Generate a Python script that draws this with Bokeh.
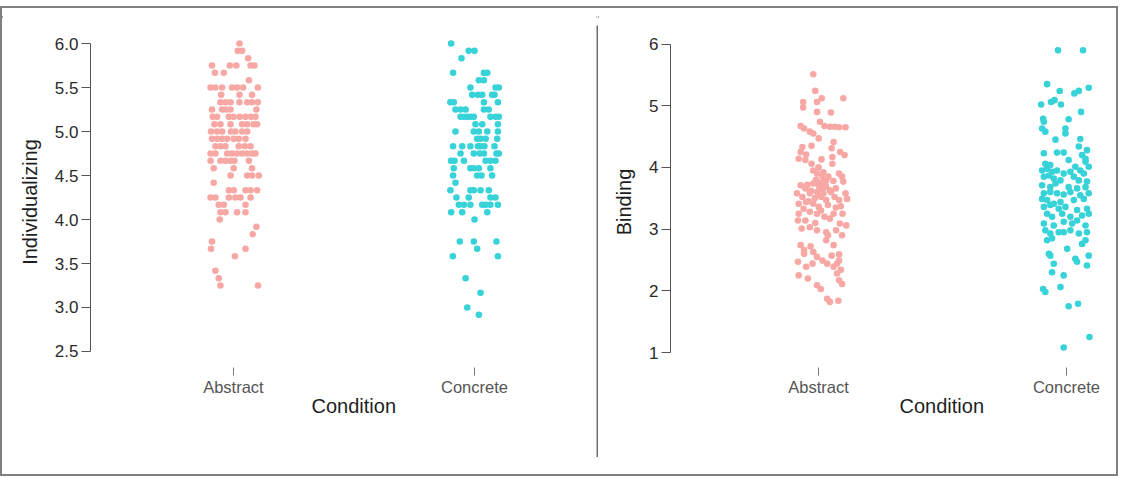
import numpy as np
from bokeh.plotting import figure
from bokeh.models import Range1d, FixedTicker, Title, Spacer, ColumnDataSource, Div
from bokeh.layouts import row, column
from bokeh.embed import file_html
from bokeh.resources import INLINE

# ---------------- data ----------------
categories = ["Abstract", "Concrete"]
colors = ["#F8A8A4", "#38D3D9"]

ind_ticks = [2.5, 3.0, 3.5, 4.0, 4.5, 5.0, 5.5, 6.0]
ind_tick_labels = ["2.5", "3.0", "3.5", "4.0", "4.5", "5.0", "5.5", "6.0"]
bind_ticks = [1, 2, 3, 4, 5, 6]
bind_tick_labels = ["1", "2", "3", "4", "5", "6"]

# Individualizing: score levels and horizontal jitter of each point on that level
ind_abstract_levels = [6.0, 5.917, 5.833, 5.75, 5.667, 5.583, 5.5, 5.417, 5.333, 5.25,
                       5.167, 5.083, 5.0, 4.917, 4.833, 4.75, 4.667, 4.583, 4.5, 4.417,
                       4.333, 4.25, 4.167, 4.083, 4.0, 3.917, 3.833, 3.75, 3.667, 3.583,
                       3.417, 3.333, 3.25]
ind_abstract_jitter = [
    [0.025],
    [0.018, 0.036],
    [0.061],
    [-0.089, -0.015, 0.012, 0.071, 0.087],
    [-0.077, -0.040],
    [0.064],
    [-0.095, -0.075, -0.047, -0.006, 0.015, 0.040, 0.101],
    [-0.051, 0.025, 0.077],
    [-0.054, -0.033, -0.012, 0.025, 0.057, 0.077, 0.101],
    [-0.089, -0.047, -0.030, -0.012, 0.095],
    [-0.086, -0.068, -0.019, 0.001, 0.026, 0.050, 0.073, 0.091],
    [-0.079, -0.054, -0.012, 0.036, 0.057, 0.084, 0.098],
    [-0.093, -0.068, -0.047, -0.010, 0.008, 0.036, 0.057],
    [-0.089, -0.068, -0.047, -0.026, 0.001, 0.022, 0.050],
    [-0.075, -0.054, -0.033, 0.022, 0.047, 0.071],
    [-0.095, -0.075, -0.026, -0.006, 0.015, 0.036, 0.057, 0.077, 0.091],
    [-0.095, -0.054, -0.033, -0.012, 0.004, 0.064],
    [-0.082, 0.001, 0.077],
    [-0.012, 0.057, 0.077, 0.105],
    [-0.082],
    [-0.019, 0.001, 0.050, 0.071, 0.098],
    [-0.095, -0.075, -0.019, 0.008, 0.029, 0.071],
    [-0.061, -0.040, 0.050],
    [-0.054, -0.033, 0.015, 0.050],
    [-0.057],
    [0.095],
    [0.080],
    [-0.089],
    [-0.093, 0.050],
    [0.006],
    [-0.075],
    [-0.061],
    [-0.054, 0.102],
]

ind_concrete_levels = [6.0, 5.917, 5.833, 5.667, 5.583, 5.5, 5.417, 5.333, 5.25, 5.167,
                       5.083, 5.0, 4.917, 4.833, 4.75, 4.667, 4.583, 4.5, 4.417, 4.333,
                       4.25, 4.167, 4.083, 4.0, 3.75, 3.667, 3.583, 3.333, 3.167, 3.0,
                       2.917]
ind_concrete_jitter = [
    [-0.097],
    [-0.024, 0.0],
    [-0.054],
    [-0.089, 0.039, 0.053],
    [0.018, 0.039],
    [-0.017, 0.087, 0.101],
    [-0.010, 0.014, 0.032, 0.073, 0.083],
    [-0.100, -0.086, 0.039, 0.097],
    [-0.079, -0.058, -0.037, 0.039, 0.059],
    [-0.058, -0.044, -0.030, -0.017, -0.003, 0.066, 0.087, 0.101],
    [0.004, 0.032, 0.097],
    [-0.079, -0.003, 0.018, 0.053, 0.097],
    [0.011, 0.025, 0.046, 0.094],
    [-0.089, -0.051, -0.017, 0.014, 0.025, 0.041, 0.083],
    [-0.058, -0.003, 0.022, 0.039, 0.091, 0.101],
    [-0.097, -0.083, -0.044, 0.046, 0.066, 0.087],
    [-0.086, -0.017, -0.003, 0.018, 0.066],
    [-0.089, 0.011, 0.029, 0.073],
    [-0.079],
    [-0.100, -0.017, -0.003, 0.025, 0.059],
    [-0.075, -0.024, 0.066, 0.087],
    [-0.065, -0.044, -0.017, 0.032, 0.046, 0.066, 0.097],
    [-0.097, -0.051, 0.053],
    [0.0],
    [-0.061, -0.003, 0.091],
    [0.011],
    [-0.090, 0.097],
    [-0.037],
    [0.025],
    [-0.030],
    [0.018],
]

# Binding: values and jitter of each point
bind_abstract_y = [
    5.51, 5.24, 5.12, 5.12, 5.06, 4.97, 5.06, 4.89, 4.90, 4.74,
    4.67, 4.63, 4.58, 4.67, 4.66, 4.66, 4.65, 4.65, 4.55, 4.47,
    4.41, 4.33, 4.25, 4.21, 4.35, 4.31, 4.25, 4.20, 4.14, 4.12,
    4.06, 4.13, 4.17, 4.06, 3.95, 3.90, 3.85, 3.79, 3.90, 3.85,
    3.77, 3.71, 3.66, 3.74, 3.71, 3.68, 3.63, 3.58, 3.52, 3.58,
    3.60, 3.52, 3.47, 3.52, 3.58, 3.49, 3.41, 3.44, 3.41, 3.36,
    3.39, 3.47, 3.37, 3.25, 3.28, 3.25, 3.20, 3.25, 3.25, 3.14,
    3.14, 3.10, 3.17, 3.09, 3.06, 3.01, 3.03, 2.98, 2.95, 2.98,
    2.90, 2.74, 2.66, 2.72, 2.63, 2.82, 2.74, 2.90, 2.60, 2.55,
    2.49, 2.57, 2.59, 2.49, 2.47, 2.39, 2.44, 2.44, 2.39, 2.44,
    2.34, 2.25, 2.20, 2.09, 2.03, 2.28, 2.17, 2.11, 1.82, 1.84,
    1.87, 3.80, 3.75, 3.70, 3.65, 3.62, 3.55, 3.50, 3.85, 3.78,
    3.66, 3.58, 3.45, 3.33, 3.30, 3.92, 4.00, 3.72, 3.60, 3.35,
]
bind_abstract_jitter = [
    -0.021, -0.013, 0.013, 0.100, -0.062, -0.062, -0.006, 0.050, -0.006, 0.006,
    -0.072, -0.058, -0.035, 0.024, 0.046, 0.065, 0.083, 0.109, -0.021, 0.001,
    0.061, -0.065, -0.072, -0.050, -0.028, 0.053, 0.087, 0.105, -0.080, -0.053,
    -0.028, 0.012, 0.056, 0.056, -0.021, -0.006, 0.016, 0.031, 0.083, 0.095,
    0.100, -0.072, -0.053, -0.021, 0.001, 0.024, 0.046, -0.087, -0.065, -0.035,
    -0.006, 0.012, 0.031, 0.065, 0.109, 0.115, -0.080, -0.050, -0.021, 0.001,
    0.038, 0.083, 0.090, -0.080, -0.035, -0.006, 0.024, 0.061, 0.097, -0.083,
    -0.053, -0.013, 0.046, 0.086, 0.112, -0.068, -0.035, -0.006, 0.031, 0.071,
    0.095, -0.072, -0.058, -0.032, -0.021, 0.031, 0.061, 0.038, -0.058, -0.006,
    0.016, 0.053, 0.083, 0.083, -0.083, -0.050, -0.024, 0.035, 0.061, 0.075,
    0.090, -0.080, -0.043, -0.006, 0.009, 0.075, 0.083, 0.095, 0.046, 0.080,
    0.035, -0.010, 0.010, 0.030, 0.005, -0.030, 0.000, -0.015, 0.040, 0.060,
    0.070, 0.020, -0.040, -0.060, 0.010, 0.020, 0.000, -0.045, 0.050, 0.070,
]

bind_concrete_y = [
    5.90, 5.90, 5.35, 5.24, 5.20, 5.24, 5.29, 5.02, 5.06, 5.09,
    5.02, 4.90, 4.79, 4.74, 4.78, 4.63, 4.58, 4.63, 4.55, 4.45,
    4.46, 4.34, 4.23, 4.24, 4.24, 4.28, 4.20, 4.14, 4.06, 4.04,
    4.12, 4.01, 4.09, 4.01, 3.95, 3.98, 3.93, 3.95, 3.90, 3.93,
    3.95, 3.90, 3.85, 3.87, 3.82, 3.79, 3.85, 3.79, 3.77, 3.71,
    3.68, 3.74, 3.68, 3.66, 3.68, 3.58, 3.60, 3.58, 3.56, 3.60,
    3.55, 3.58, 3.49, 3.47, 3.41, 3.44, 3.47, 3.49, 3.36, 3.39,
    3.33, 3.36, 3.31, 3.33, 3.25, 3.20, 3.25, 3.20, 3.22, 3.25,
    3.09, 3.06, 3.12, 3.09, 3.14, 3.06, 2.98, 2.93, 2.95, 2.95,
    2.98, 2.93, 2.95, 2.82, 2.85, 2.76, 2.82, 2.60, 2.57, 2.68,
    2.52, 2.47, 2.57, 2.41, 2.44, 2.30, 2.25, 2.06, 2.03, 1.98,
    1.75, 1.79, 1.25, 1.08,
]
bind_concrete_jitter = [
    -0.034, 0.067, -0.078, -0.027, 0.032, 0.050, 0.090, -0.102, -0.062, -0.048,
    -0.022, 0.059, -0.094, -0.091, 0.009, -0.098, -0.085, -0.004, -0.004, -0.044,
    0.056, 0.050, -0.091, -0.038, -0.011, 0.083, 0.063, 0.077, -0.085, -0.065,
    0.009, 0.036, 0.077, 0.090, -0.098, -0.078, -0.058, -0.038, -0.011, 0.016,
    0.056, 0.070, -0.091, -0.071, -0.051, -0.024, 0.030, 0.050, 0.083, -0.098,
    -0.065, -0.044, 0.009, 0.043, 0.077, -0.091, -0.065, -0.038, -0.011, 0.016,
    0.056, 0.090, -0.098, -0.078, -0.051, -0.024, 0.030, 0.070, -0.091, -0.065,
    -0.031, -0.004, 0.043, 0.083, -0.078, -0.058, -0.017, 0.016, 0.063, 0.090,
    -0.091, -0.051, -0.011, 0.023, 0.043, 0.077, -0.085, -0.065, -0.031, -0.011,
    0.016, 0.050, 0.083, -0.078, -0.058, 0.063, 0.077, -0.071, -0.065, 0.003,
    0.036, 0.043, 0.090, 0.083, -0.051, -0.058, -0.011, -0.024, -0.094, -0.085,
    0.009, 0.047, 0.093, -0.011,
]


def expand(levels, jitter):
    ys, js = [], []
    for lv, row_j in zip(levels, jitter):
        for j in row_j:
            ys.append(lv)
            js.append(j)
    return ys, js


FONT = "Liberation Sans"
BORDER = "#808080"


def bar(w, h, color=BORDER):
    return Div(width=w, height=h,
               text=f'<div style="width:{w}px;height:{h}px;background:{color};margin:0;padding:0"></div>',
               styles={"background-color": color, "margin": "0", "padding": "0"})


def fig_bar(w, h, color):
    f = figure(width=w, height=h, output_backend="svg", toolbar_location=None,
               min_border=0, x_axis_type=None, y_axis_type=None, title=None)
    f.background_fill_color = color
    f.border_fill_color = color
    f.outline_line_color = None
    return f


def panel(width, min_left, xr, yr, ticks, tick_labels, ylabel, groups, cond_offset):
    p = figure(width=width, height=466, x_range=Range1d(*xr), y_range=Range1d(*yr),
               output_backend="svg", toolbar_location=None,
               min_border_left=min_left, min_border_right=0,
               min_border_top=28, min_border_bottom=107)
    p.grid.visible = False
    p.outline_line_color = None
    p.background_fill_color = "white"
    p.border_fill_color = "white"

    for i, (ys, js) in enumerate(groups):
        xs = list(np.array(js) + (i + 1))
        src = ColumnDataSource(dict(x=xs, y=ys))
        p.scatter("x", "y", source=src, size=6.6, fill_color=colors[i], line_color=None)

    ya = p.yaxis[0]
    ya.ticker = FixedTicker(ticks=ticks)
    ya.bounds = (ticks[0], ticks[-1])
    ya.major_label_overrides = {t: l for t, l in zip(ticks, tick_labels)}
    ya.axis_line_color = "#555555"
    ya.major_tick_line_color = "#555555"
    ya.major_tick_out = 9
    ya.major_tick_in = 0
    ya.minor_tick_line_color = None
    ya.major_label_standoff = 3
    ya.major_label_text_font = FONT
    ya.major_label_text_font_size = "17px"
    ya.major_label_text_color = "#2a2a2a"
    ya.axis_label = ylabel
    ya.axis_label_text_font = FONT
    ya.axis_label_text_font_size = "20px"
    ya.axis_label_text_font_style = "normal"
    ya.axis_label_text_color = "#1e1e1e"
    ya.axis_label_standoff = 11

    xa = p.xaxis[0]
    xa.ticker = FixedTicker(ticks=[1, 2])
    xa.major_label_overrides = {i + 1: c for i, c in enumerate(categories)}
    xa.axis_line_color = None
    xa.major_tick_line_color = "#777777"
    xa.major_tick_out = 8
    xa.major_tick_in = 0
    xa.minor_tick_line_color = None
    xa.major_label_standoff = 2
    xa.major_label_text_font = FONT
    xa.major_label_text_font_size = "16.5px"
    xa.major_label_text_color = "#555555"

    p.add_layout(Title(text="Condition", align="left", vertical_align="top",
                       offset=cond_offset, text_font=FONT, text_font_size="20px",
                       text_font_style="normal", text_color="#1e1e1e", standoff=-8),
                 "below")
    return p


p1 = panel(594, 88, (0.407, 2.506), (2.318, 6.080), ind_ticks, ind_tick_labels,
           "Individualizing",
           [expand(ind_abstract_levels, ind_abstract_jitter),
            expand(ind_concrete_levels, ind_concrete_jitter)], 221)

p2 = panel(518, 72, (0.403, 2.202), (0.757, 6.122), bind_ticks, bind_tick_labels,
           "Binding",
           [(bind_abstract_y, bind_abstract_jitter),
            (bind_concrete_y, bind_concrete_jitter)], 229)

divider = column(fig_bar(2, 17, "white"), fig_bar(2, 432, "#6e6e6e"), fig_bar(2, 17, "white"))

layout = column(
    Spacer(width=1128, height=6),
    bar(1118, 2),
    row(bar(2, 466), p1, divider, p2, bar(2, 466)),
    bar(1118, 2),
)

open("out.html", "w").write(file_html(layout, INLINE))
